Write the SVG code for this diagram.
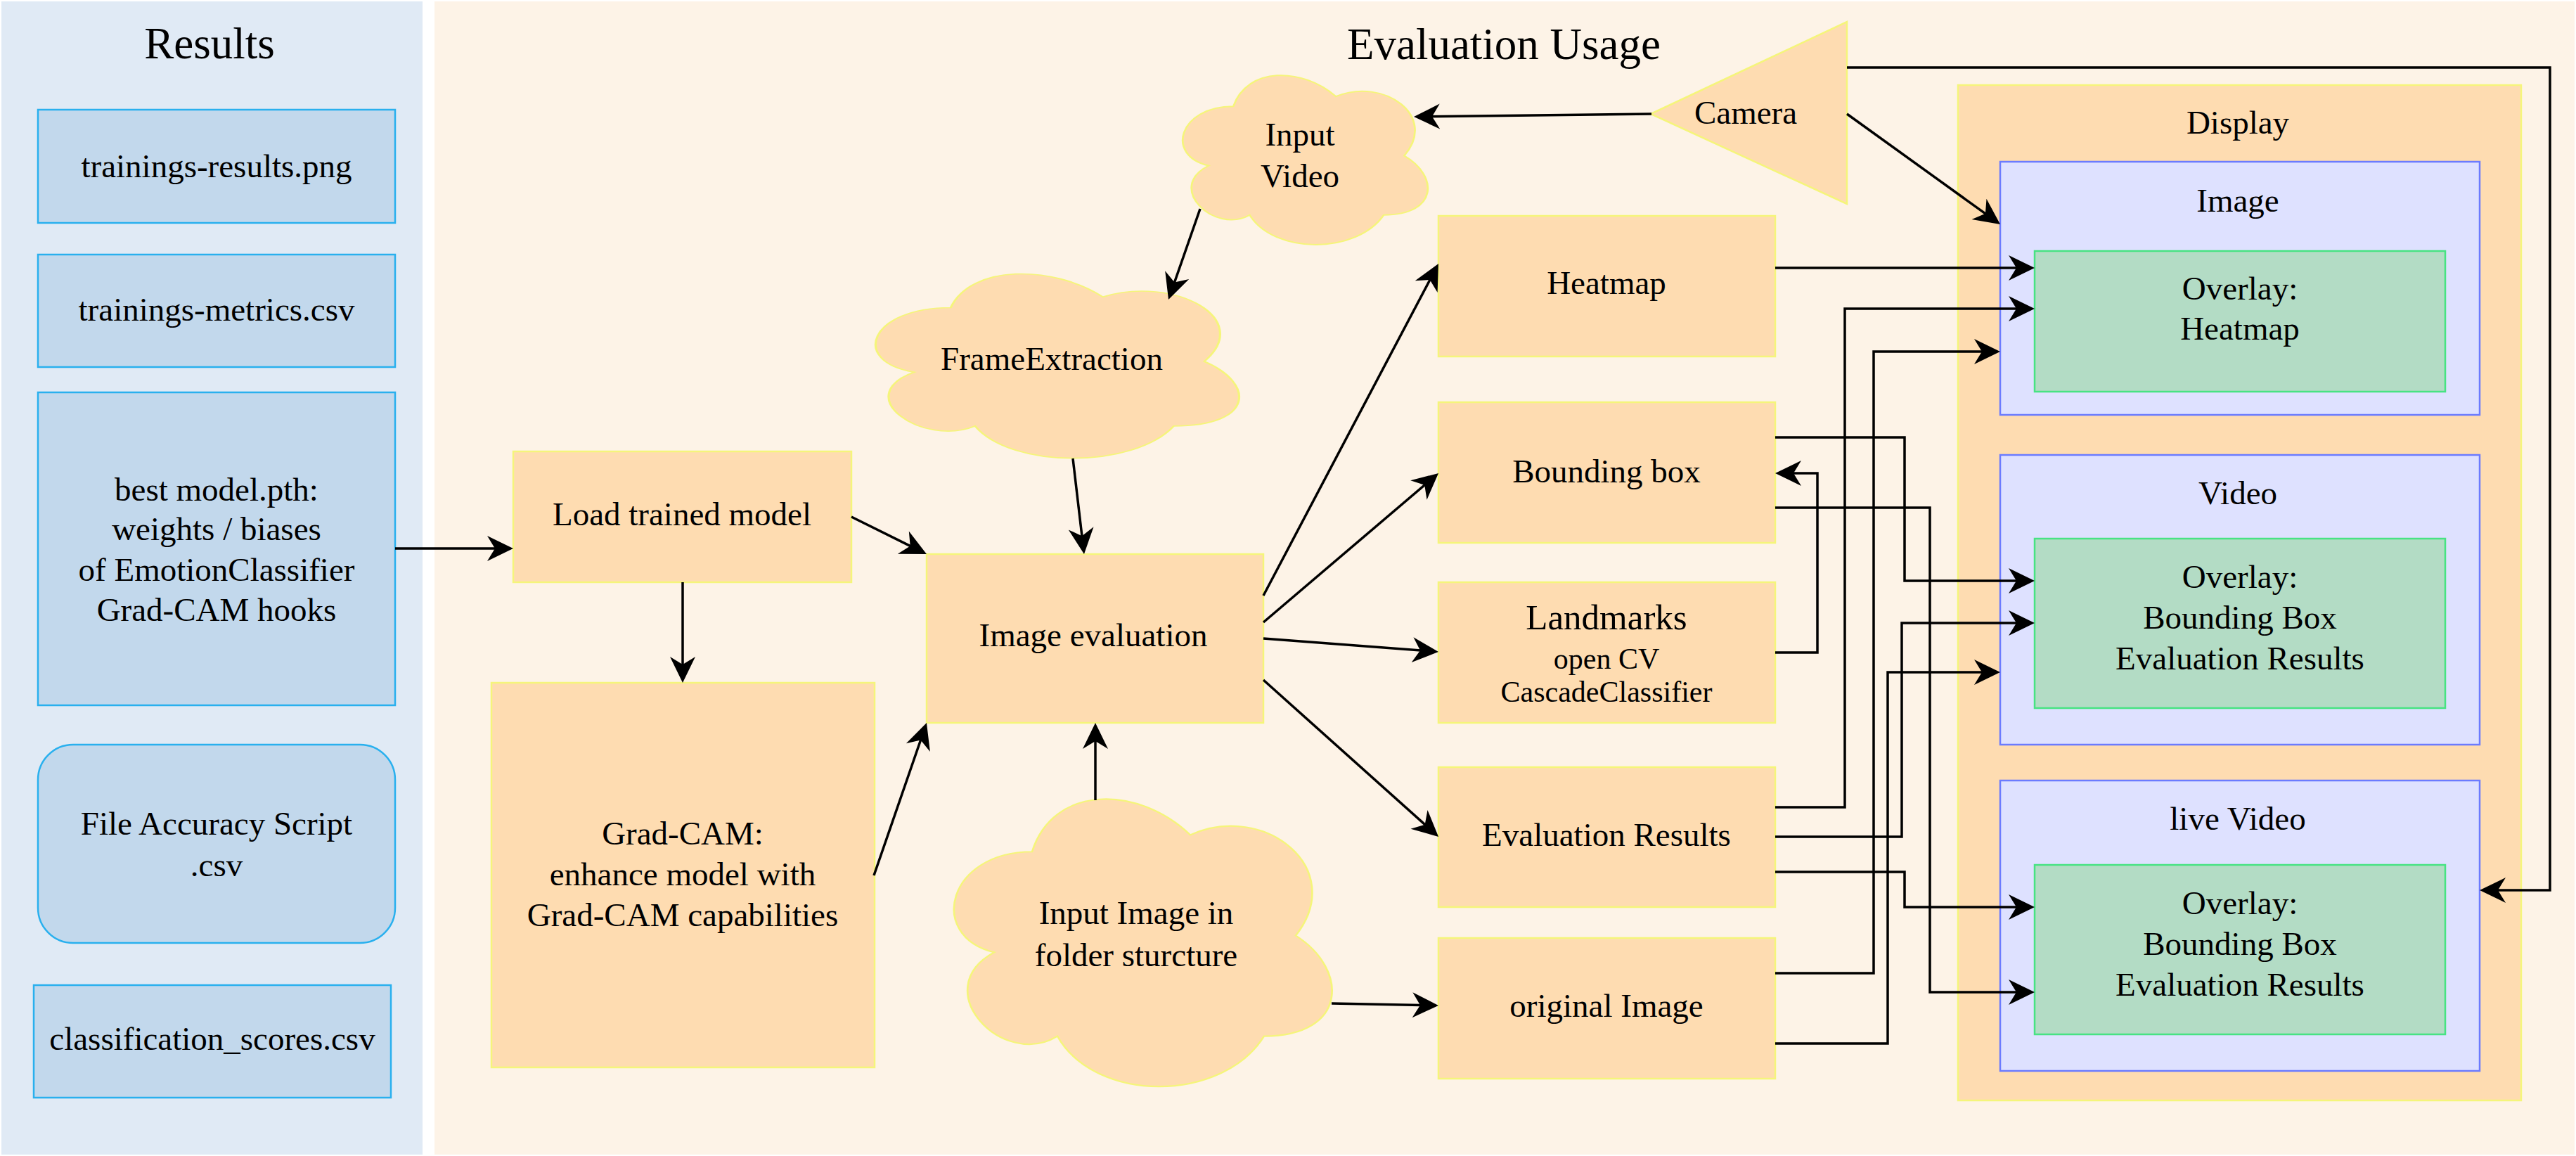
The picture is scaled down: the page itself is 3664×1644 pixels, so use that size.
<svg xmlns="http://www.w3.org/2000/svg" width="3664" height="1644" viewBox="0 0 3664 1644" font-family="'Liberation Serif', 'DejaVu Serif', 'Times New Roman', Times, serif">
<style>
text{font-family:'Liberation Serif','DejaVu Serif','Times New Roman',Times,serif;font-size:47px;fill:#000;text-anchor:middle}
.title{font-size:63px}
.res{fill:#c2d8ec;stroke:#29b0ee;stroke-width:2.5}
.node{fill:#fedcb1;stroke:#f5f57b;stroke-width:2.5}
.panel{fill:#dee1ff;stroke:#6b7bff;stroke-width:2.5}
.ovl{fill:#b3dcc5;stroke:#47e383;stroke-width:2.5}
.cloud{fill:#fedcb1;stroke:#f5f57b}
#connectors path{fill:none;stroke:#000;stroke-width:3.5}
</style>
<defs>
<marker id="arr" viewBox="-40 -20 52 40" markerWidth="52" markerHeight="40" refX="0" refY="0" orient="auto" markerUnits="userSpaceOnUse"><path d="M10,0 L-27,-18 L-16,0 L-27,18 Z" fill="#000"/></marker>
<path id="cloudshape" d="M25,25 C5,25 0,50 16,55 C0,66 18,90 31,80 C40,100 70,100 80,80 C100,80 100,60 87.5,50 C100,30 80,10 62.5,20 C50,5 30,5 25,25 Z"/>
</defs>

<g id="results-panel">
<rect x="2" y="2" width="599" height="1640" fill="#e0eaf5"/>
<text class="title" x="298" y="83">Results</text>
</g>
<g id="eval-panel">
<rect x="618" y="2" width="3044" height="1640" fill="#fdf3e7"/>
<text class="title" x="2139" y="84">Evaluation Usage</text>
</g>

<g id="trainings-results">
<rect class="res" x="54" y="156" width="508" height="161"/>
<text x="308" y="252">trainings-results.png</text>
</g>
<g id="trainings-metrics">
<rect class="res" x="54" y="362" width="508" height="160"/>
<text x="308" y="456">trainings-metrics.csv</text>
</g>
<g id="best-model">
<rect class="res" x="54" y="558" width="508" height="445"/>
<text x="308" y="712">best model.pth:</text>
<text x="308" y="768">weights / biases</text>
<text x="308" y="826">of EmotionClassifier</text>
<text x="308" y="883">Grad-CAM hooks</text>
</g>
<g id="file-accuracy">
<rect class="res" x="54" y="1059" width="508" height="282" rx="50" ry="50"/>
<text x="308" y="1187">File Accuracy Script</text>
<text x="308" y="1246">.csv</text>
</g>
<g id="classification-scores">
<rect class="res" x="48" y="1401" width="508" height="160"/>
<text x="302" y="1493">classification_scores.csv</text>
</g>

<g id="load-model">
<rect class="node" x="730" y="642" width="481" height="186"/>
<text x="970" y="747">Load trained model</text>
</g>
<g id="gradcam">
<rect class="node" x="699" y="971" width="545" height="547"/>
<text x="971" y="1201">Grad-CAM:</text>
<text x="971" y="1259">enhance model with</text>
<text x="971" y="1317">Grad-CAM capabilities</text>
</g>
<g id="image-evaluation">
<rect class="node" x="1318" y="788" width="479" height="240"/>
<text x="1555" y="919">Image evaluation</text>
</g>
<g id="input-video">
<use href="#cloudshape" class="cloud" transform="translate(1657,81) scale(3.89,2.81)" style="stroke-width:0.7"/>
<text x="1849" y="207">Input</text>
<text x="1849" y="266">Video</text>
</g>
<g id="frame-extraction">
<use href="#cloudshape" class="cloud" transform="translate(1208,361) scale(5.77,3.06)" style="stroke-width:0.55"/>
<text x="1496" y="526">FrameExtraction</text>
</g>
<g id="input-image">
<use href="#cloudshape" class="cloud" transform="translate(1318,1092) scale(6.0,4.77)" style="stroke-width:0.45"/>
<text x="1616" y="1314">Input Image in</text>
<text x="1616" y="1374">folder sturcture</text>
</g>
<g id="camera">
<polygon class="node" points="2348,162 2627,31 2627,290"/>
<text x="2483" y="176">Camera</text>
</g>
<g id="heatmap">
<rect class="node" x="2046" y="307" width="479" height="200"/>
<text x="2285" y="418">Heatmap</text>
</g>
<g id="bounding-box">
<rect class="node" x="2046" y="572" width="479" height="200"/>
<text x="2285" y="686">Bounding box</text>
</g>
<g id="landmarks">
<rect class="node" x="2046" y="828" width="479" height="200"/>
<text x="2285" y="895" style="font-size:51px">Landmarks</text>
<text x="2285" y="951" style="font-size:42px">open CV</text>
<text x="2285" y="998" style="font-size:42px">CascadeClassifier</text>
</g>
<g id="evaluation-results">
<rect class="node" x="2046" y="1091" width="479" height="199"/>
<text x="2285" y="1203">Evaluation Results</text>
</g>
<g id="original-image">
<rect class="node" x="2046" y="1334" width="479" height="200"/>
<text x="2285" y="1446">original Image</text>
</g>

<g id="display">
<rect class="node" x="2785" y="121" width="801" height="1444"/>
<text x="3183" y="190">Display</text>
</g>
<g id="image-panel">
<rect class="panel" x="2845" y="230" width="682" height="360"/>
<text x="3183" y="301">Image</text>
</g>
<g id="overlay-heatmap">
<rect class="ovl" x="2894" y="357" width="584" height="200"/>
<text x="3186" y="426">Overlay:</text>
<text x="3186" y="483">Heatmap</text>
</g>
<g id="video-panel">
<rect class="panel" x="2845" y="647" width="682" height="412"/>
<text x="3183" y="717">Video</text>
</g>
<g id="overlay-video">
<rect class="ovl" x="2894" y="766" width="584" height="241"/>
<text x="3186" y="836">Overlay:</text>
<text x="3186" y="894">Bounding Box</text>
<text x="3186" y="952">Evaluation Results</text>
</g>
<g id="live-video-panel">
<rect class="panel" x="2845" y="1110" width="682" height="413"/>
<text x="3183" y="1180">live Video</text>
</g>
<g id="overlay-live">
<rect class="ovl" x="2894" y="1230" width="584" height="241"/>
<text x="3186" y="1300">Overlay:</text>
<text x="3186" y="1358">Bounding Box</text>
<text x="3186" y="1416">Evaluation Results</text>
</g>

<g id="connectors" marker-end="url(#arr)">
<path d="M562,780 L720,780"/>
<path d="M971,828 L971,961"/>
<path d="M1211,735 L1309,783.6"/>
<path d="M1243,1245 L1314.7,1037.5"/>
<path d="M1526,652 L1540.8,778.1"/>
<path d="M1558,1138 L1558,1038"/>
<path d="M1707,297 L1665.3,416.6"/>
<path d="M2349,162 L2021,165.9"/>
<path d="M1797,847 L2041.3,383.8"/>
<path d="M1797,885 L2038.4,679.5"/>
<path d="M1797,908 L2036,926.2"/>
<path d="M1797,967 L2038.6,1183.3"/>
<path d="M1894,1427 L2036,1429.8"/>
<path d="M2627,162 L2836.9,313.2"/>
<path d="M2627,96 L3627,96 L3627,1266 L3537,1266"/>
<path d="M2525,381 L2884,381"/>
<path d="M2525,1148 L2624,1148 L2624,439 L2884,439"/>
<path d="M2525,1384 L2665,1384 L2665,500 L2835,500"/>
<path d="M2525,622 L2709,622 L2709,826 L2884,826"/>
<path d="M2525,928 L2585,928 L2585,673 L2535,673"/>
<path d="M2525,722 L2745,722 L2745,1411 L2884,1411"/>
<path d="M2525,1190 L2705,1190 L2705,886 L2884,886"/>
<path d="M2525,1240 L2709,1240 L2709,1290 L2884,1290"/>
<path d="M2525,1484 L2685,1484 L2685,956 L2835,956"/>
</g>
</svg>
